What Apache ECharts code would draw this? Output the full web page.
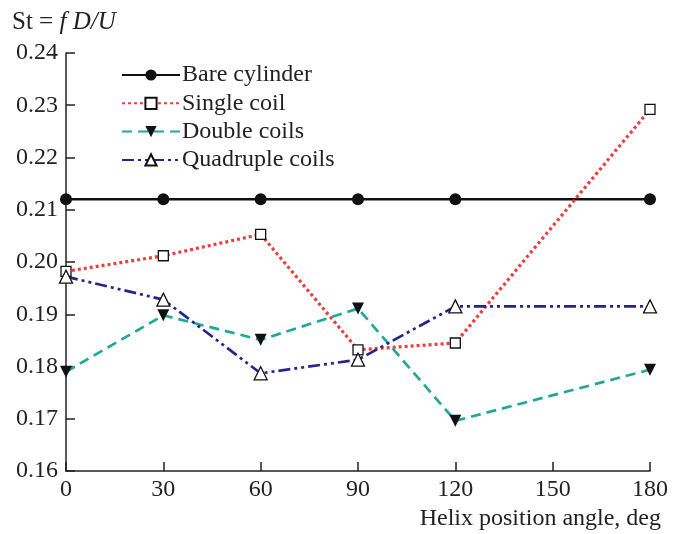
<!DOCTYPE html>
<html><head><meta charset="utf-8">
<script src="https://cdn.jsdelivr.net/npm/echarts@6/dist/echarts.min.js"></script>
<style>html,body{margin:0;padding:0;background:#fff}#c{width:673px;height:534px}</style>
</head><body><div id="c"></div>
<script>
const angles = [0, 30, 60, 90, 120, 180];
const bareCylinder = [0.212, 0.212, 0.212, 0.212, 0.212, 0.212];
const singleCoil = [0.1982, 0.2012, 0.2053, 0.1832, 0.1845, 0.2292];
const doubleCoils = [0.1790, 0.1898, 0.1851, 0.1911, 0.1696, 0.1794];
const quadrupleCoils = [0.1972, 0.1928, 0.1787, 0.1813, 0.1915, 0.1915];
const seriesNames = ['Bare cylinder', 'Single coil', 'Double coils', 'Quadruple coils'];
const xTicks = [0, 30, 60, 90, 120, 150, 180];
const yMin = 0.16, yMax = 0.24, yStep = 0.01;

const font = 'Liberation Serif';
const fs = 24;
const pair = arr => angles.map((a, i) => [a, arr[i]]);
const chart = echarts.init(document.getElementById('c'));
chart.setOption({
  animation: false,
  textStyle: { fontFamily: font },
  grid: { left: 66, right: 23, top: 53, bottom: 63 },
  legend: {
    orient: 'vertical', left: 116, top: 58, itemGap: 4.3,
    itemWidth: 58, itemHeight: 14,
    textStyle: { fontFamily: font, fontSize: fs, color: '#222', padding: [0, 0, 0, -3] },
    data: seriesNames
  },
  graphic: [{
    type: 'text', left: 12, top: 10,
    style: {
      text: '{n|St = }{i|f D/U}',
      rich: {
        n: { fontFamily: font, fontSize: 25, fill: '#222' },
        i: { fontFamily: font, fontSize: 25, fontStyle: 'italic', fill: '#222' }
      }
    }
  }, {
    type: 'text', right: 12, top: 507,
    style: { text: 'Helix position angle, deg', fontFamily: font, fontSize: fs, fill: '#222' }
  }],
  xAxis: {
    type: 'value', min: 0, max: 180, interval: 30,
    axisLine: { lineStyle: { color: '#222', width: 1.5 } },
    axisTick: { inside: true, length: 9, lineStyle: { color: '#222', width: 1.5 } },
    splitLine: { show: false },
    axisLabel: { fontFamily: font, fontSize: fs, color: '#222', margin: 7 }
  },
  yAxis: {
    type: 'value', min: yMin, max: yMax, interval: yStep,
    axisLine: { show: true, lineStyle: { color: '#222', width: 1.5 } },
    axisTick: { show: true, inside: true, length: 9, lineStyle: { color: '#222', width: 1.5 } },
    splitLine: { show: false },
    axisLabel: { fontFamily: font, fontSize: fs, color: '#222', margin: 8, formatter: v => v.toFixed(2) }
  },
  series: [{
    name: seriesNames[0], type: 'line', data: pair(bareCylinder),
    symbol: 'circle', symbolSize: 12,
    itemStyle: { color: '#111' },
    lineStyle: { color: '#111', width: 2.4, type: 'solid' }
  }, {
    name: seriesNames[1], type: 'line', data: pair(singleCoil),
    symbol: 'rect', symbolSize: 10,
    itemStyle: { color: '#fff', borderColor: '#111', borderWidth: 1.3 },
    lineStyle: { color: '#f03c3c', width: 3.2, type: [3, 3] }
  }, {
    name: seriesNames[2], type: 'line', data: pair(doubleCoils),
    symbol: 'triangle', symbolRotate: 180, symbolSize: 12,
    itemStyle: { color: '#111' },
    lineStyle: { color: '#1fa898', width: 2.7, type: [10, 6] }
  }, {
    name: seriesNames[3], type: 'line', data: pair(quadrupleCoils),
    symbol: 'triangle', symbolSize: 13,
    itemStyle: { color: '#fff', borderColor: '#111', borderWidth: 1.3 },
    lineStyle: { color: '#25268c', width: 2.7, type: [12, 4, 3, 4, 3, 4] }
  }]
});
</script></body></html>
